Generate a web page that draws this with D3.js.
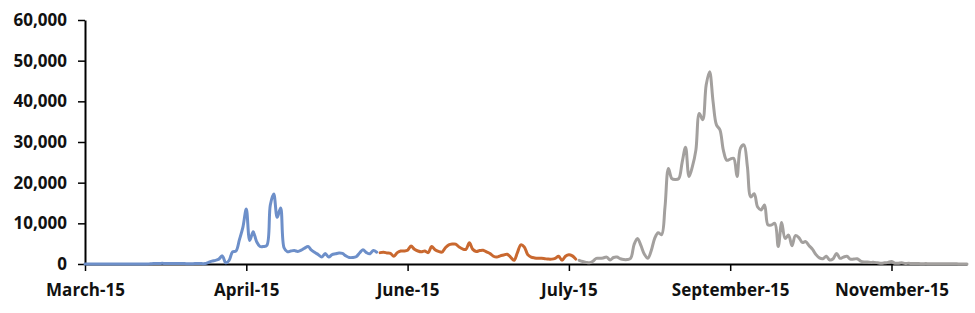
<!DOCTYPE html>
<html>
<head>
<meta charset="utf-8">
<script src="https://cdn.jsdelivr.net/npm/d3@7"></script>
<style>
  body { margin: 0; background: #fff; }
  svg { display: block; }
  .axis text { font-family: "Open Sans", sans-serif; font-weight: bold; font-size: 17px; fill: #111; }
</style>
</head>
<body>
<div id="chart"></div>
<script>
// valeurs journalieres, une serie par periode (bleu, orange, gris)
const blueValues = [
  0,0,0,0,0,0,0,0,0,0,0,0,0,0,0,0,0,0,0,
  50,100,100,150,150,100,100,150,100,100,100,50,50,100,100,100,
  100,400,700,900,1200, 2000,300,900,3000,3200, 6000,9000,13500,5800,7900,
  5500,4300,4300,4600,14500, 17200,11500,13800,4000,3000, 3200,3300,3100,3400,3900,
  4300,3400,2800,2300,1700, 2600,1700,2300,2500,2700, 2600,2000,1600,1600,1800,
  2700,3500,2800,2500,3300, 2900
]
const orangeValues = [
  2800,2900,2700,2600,1900, 2800,3200,3200,3400,4400, 3600,3200,3000,3200,2800,
  4300,3500,3100,2900,4000, 4700,4900,4900,4200,3700, 3600,5200,3600,3100,3300,
  3400,3000,2600,1900,1700, 2000,2200,2400,1700,900, 2800,4700,4200,2300,1700,
  1500,1400,1400,1300,1200, 1200,1400,1900,900,1900, 2300,2000,1200
]
const greyValues = [
  900,600,400,300,700, 1400,1400,1500,1700,1000, 1600,1700,1300,1100,1100,
  1400,4800,6300,4500,2400, 1400,3300,6300,7700,7200, 14000,23500,21000,20800,21000,
  25000,28700,21500,24000,28000, 37000,35500,44000,47300,40000, 34200,33000,28000,25500,25800,
  26000,21500,28500,29300,24000, 16500,17300,14000,13300,14500, 9600,9600,10000,4300,10200,
  6300,7100,4500,7000,6500, 5300,5500,4500,3600,2300, 1500,1300,1900,1000,1300,
  2600,1400,1700,1900,1200, 1200,1300,700,500,500, 400,400,300,200,300,
  400,600,200,200,300, 100,200,100,100,100, 50,100,50,50,50,
  50,50,50,50,50, 50,0,0,0
]

// axe des x : position (jour) et texte des graduations
const tickDays = [0, 47, 94, 141, 188, 235]
const tickLabels = ["March-15", "April-15", "June-15", "July-15", "September-15", "November-15"]
const yTicks = [0, 10000, 20000, 30000, 40000, 50000, 60000]

const width = 975
const height = 313
const totalDays = blueValues.length + orangeValues.length + greyValues.length

const svg = d3.select("#chart")
  .append("svg")
  .attr("width", width)
  .attr("height", height)

const x = d3.scaleLinear()
  .domain([0, totalDays - 1])
  .range([85, 967])

const y = d3.scaleLinear()
  .domain([0, 60000])
  .range([264, 20])

// axe y
const yAxis = svg.append("g")
  .attr("class", "axis")
  .attr("transform", "translate(85,0)")
  .call(d3.axisLeft(y).tickValues(yTicks).tickFormat(d3.format(",")).tickSizeInner(7).tickSizeOuter(0).tickPadding(11))
yAxis.select(".domain").attr("stroke", "#000").attr("stroke-width", 2)
yAxis.selectAll(".tick line").attr("stroke", "#000").attr("stroke-width", 1.5)

// axe x
const xAxis = svg.append("g")
  .attr("class", "axis")
  .attr("transform", "translate(0,264)")
  .call(d3.axisBottom(x).tickValues(tickDays).tickFormat((d, i) => tickLabels[i]).tickSizeInner(7).tickSizeOuter(0).tickPadding(13))
xAxis.select(".domain").attr("stroke", "#000").attr("stroke-width", 2)
xAxis.selectAll(".tick line").attr("stroke", "#000").attr("stroke-width", 1.5)

// courbes
const line = d3.line()
  .x(d => x(d.day))
  .y(d => y(d.value))
  .curve(d3.curveCatmullRom.alpha(0.5))

const series = [
  { values: blueValues, start: 0, color: "#6d8fc9" },
  { values: orangeValues, start: blueValues.length, color: "#c9682f" },
  { values: greyValues, start: blueValues.length + orangeValues.length, color: "#a3a09e" }
]

series.forEach(function(s){
  const pts = s.values.map((v, i) => ({ day: s.start + i, value: v }))
  svg.append("path")
    .datum(pts)
    .attr("fill", "none")
    .attr("stroke", s.color)
    .attr("stroke-width", 3)
    .attr("stroke-linejoin", "round")
    .attr("stroke-linecap", "round")
    .attr("d", line)
})
</script>
</body>
</html>
